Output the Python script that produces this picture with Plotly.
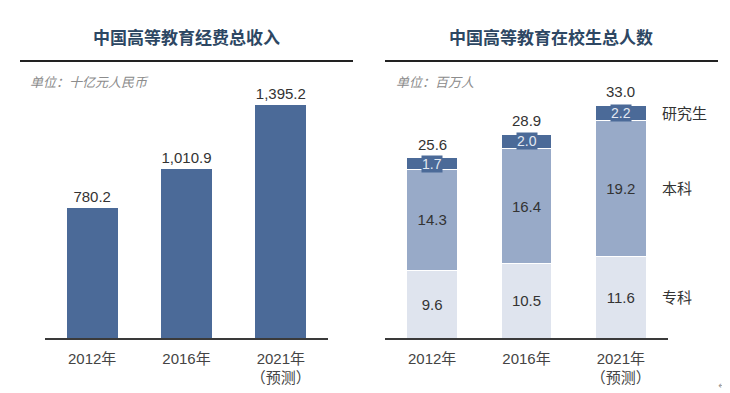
import plotly.graph_objects as go

years = ["2012年", "2016年", "2021年<br>（预测）"]
funding = [780.2, 1010.9, 1395.2]
funding_labels = ["780.2", "1,010.9", "1,395.2"]

zhuanke = [9.6, 10.5, 11.6]
benke = [14.3, 16.4, 19.2]
yanjiusheng = [1.7, 2.0, 2.2]
totals = [25.6, 28.9, 33.0]
series_names = ["专科", "本科", "研究生"]

title_left = "中国高等教育经费总收入"
title_right = "中国高等教育在校生总人数"
unit_left = "单位：十亿元人民币"
unit_right = "单位：百万人"

W, H = 730, 393
OFF = 8  # page body margin
FONT = "Liberation Sans, Arial, Noto Sans CJK SC"
C_DARK = "#4b6a98"
C_MID = "#98aac8"
C_LIGHT = "#dfe4ee"
TXT = "#333333"

def px(x):
    return (x - OFF) / W

def py(y):
    return 1 - (y - OFF) / H

fig = go.Figure()

fig.add_trace(go.Bar(
    x=years, y=funding, text=funding_labels, textposition="outside",
    textfont=dict(size=15, color=TXT, family=FONT), marker_color=C_DARK,
    marker_line_width=0, xaxis="x", yaxis="y", cliponaxis=False, showlegend=False,
))

fig.add_trace(go.Bar(
    x=years, y=zhuanke, text=[f"{v:.1f}" for v in zhuanke], textposition="inside",
    insidetextanchor="middle", textfont=dict(size=15, color=TXT, family=FONT),
    marker=dict(color=C_LIGHT, line=dict(color="white", width=1)),
    xaxis="x2", yaxis="y2", showlegend=False, name=series_names[0],
))
fig.add_trace(go.Bar(
    x=years, y=benke, text=[f"{v:.1f}" for v in benke], textposition="inside",
    insidetextanchor="middle", textfont=dict(size=15, color=TXT, family=FONT),
    marker=dict(color=C_MID, line=dict(color="white", width=1)),
    xaxis="x2", yaxis="y2", showlegend=False, name=series_names[1],
))
fig.add_trace(go.Bar(
    x=years, y=yanjiusheng,
    marker=dict(color=C_DARK, line=dict(color="white", width=1)),
    xaxis="x2", yaxis="y2", showlegend=False, name=series_names[2],
))

annotations = []
for i, yr in enumerate(years):
    mid = zhuanke[i] + benke[i] + yanjiusheng[i] / 2
    annotations.append(dict(
        x=yr, y=mid, xref="x2", yref="y2", text=f"{yanjiusheng[i]:.1f}",
        showarrow=False, bgcolor=C_DARK, borderpad=0,
        font=dict(size=14, color="#e3e9f2", family=FONT),
    ))
    annotations.append(dict(
        x=yr, y=totals[i], xref="x2", yref="y2", text=f"{totals[i]:.1f}",
        showarrow=False, yanchor="bottom", yshift=3,
        font=dict(size=15, color=TXT, family=FONT),
    ))

label_y = [zhuanke[2] / 2, zhuanke[2] + benke[2] / 2,
           zhuanke[2] + benke[2] + yanjiusheng[2] / 2]
for name, yv in zip(series_names, label_y):
    annotations.append(dict(
        x=px(660), y=yv, xref="paper", yref="y2", text=name, xanchor="left",
        yanchor="middle", showarrow=False, font=dict(size=15, color=TXT, family=FONT),
    ))

for t, cx in [(title_left, 186), (title_right, 551)]:
    annotations.append(dict(
        x=px(cx), y=py(38), xref="paper", yref="paper", text=f"<b>{t}</b>",
        xanchor="center", yanchor="middle", showarrow=False,
        font=dict(size=17, color="#2d4763", family=FONT),
    ))
for t, lx in [(unit_left, 28), (unit_right, 394)]:
    annotations.append(dict(
        x=px(lx), y=py(82), xref="paper", yref="paper", text=f"<i>{t}</i>",
        xanchor="left", yanchor="middle", showarrow=False,
        font=dict(size=13, color="#8c8c8c", family=FONT),
    ))
annotations.append(dict(
    x=px(722), y=py(385), xref="paper", yref="paper", text="↵",
    xanchor="center", yanchor="middle",
    showarrow=False, font=dict(size=10, color="#999999", family="DejaVu Sans"),
))

shapes = [
    dict(type="line", xref="paper", yref="paper", x0=px(20), x1=px(353),
         y0=py(61), y1=py(61), line=dict(color="#222222", width=2)),
    dict(type="line", xref="paper", yref="paper", x0=px(385), x1=px(718),
         y0=py(61), y1=py(61), line=dict(color="#222222", width=2)),
]

yb, yt = py(338), py(93)
axis_common = dict(
    showline=True, linecolor="#3a3a3a", linewidth=1.5, ticks="",
    tickfont=dict(size=15, color="#444444", family=FONT), showgrid=False,
    zeroline=False, fixedrange=True, ticklabelstandoff=6,
)
fig.update_layout(
    width=W, height=H, margin=dict(l=0, r=0, t=0, b=0),
    paper_bgcolor="white", plot_bgcolor="white",
    barmode="stack", bargap=0.46,
    xaxis=dict(domain=[px(45), px(328)], anchor="y", **axis_common),
    yaxis=dict(domain=[yb, yt], range=[0, 1467], visible=False, anchor="x"),
    xaxis2=dict(domain=[px(385), px(668)], anchor="y2", **axis_common),
    yaxis2=dict(domain=[yb, yt], range=[0, 34.75], visible=False, anchor="x2"),
    annotations=annotations, shapes=shapes,
    font=dict(family=FONT),
)

fig.write_html("out.html")
